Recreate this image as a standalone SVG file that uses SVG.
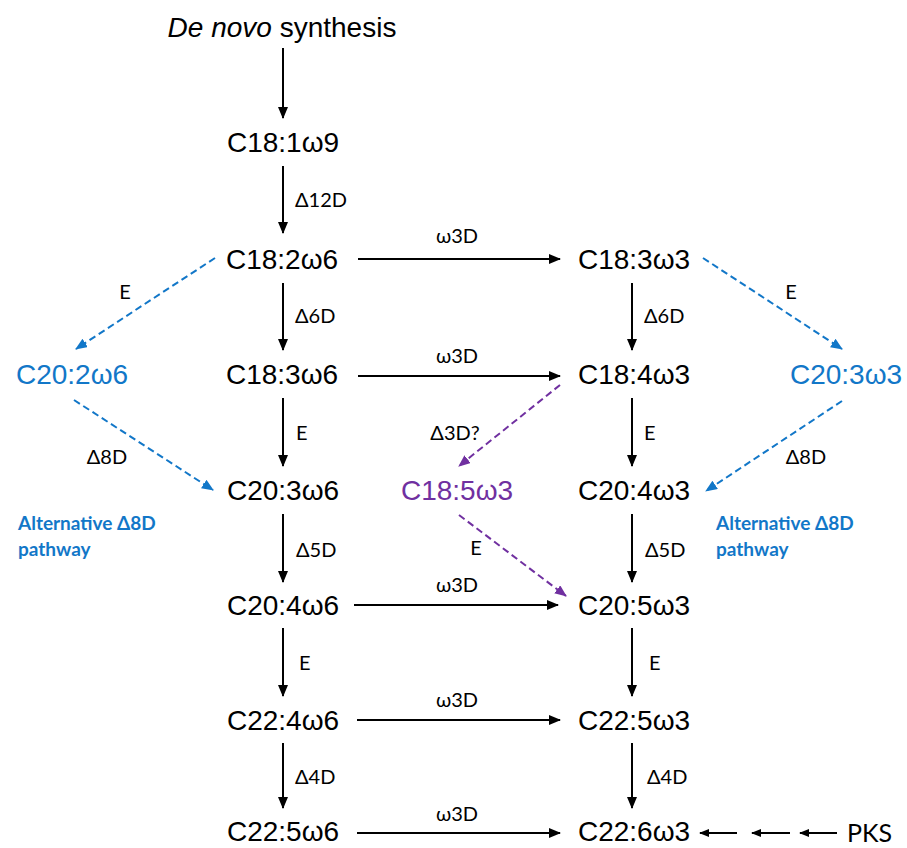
<svg xmlns="http://www.w3.org/2000/svg" width="907" height="848" viewBox="0 0 907 848">
<style>
.n{font-family:"Liberation Sans",Arial,sans-serif;font-size:28px;text-anchor:middle;fill:#000}
.b{fill:#1277c8}
.p{fill:#7030A0}
.l{font-family:Lato,"Noto Sans",sans-serif;font-size:20px;fill:#000}
.lm{text-anchor:middle}
.alt{font-family:Lato,"Noto Sans",sans-serif;font-size:19px;font-weight:bold;fill:#1277c8}
.k{stroke:#000;stroke-width:2;fill:none}
.bd{stroke:#1277c8;stroke-width:2;fill:none;stroke-dasharray:7 4}
.pd{stroke:#7030A0;stroke-width:2;fill:none;stroke-dasharray:7 4}
</style>
<defs>
<marker id="ak" markerUnits="userSpaceOnUse" markerWidth="13" markerHeight="11" refX="11" refY="5" orient="auto"><path d="M0,0 L12,5 L0,10 z" fill="#000"/></marker>
<marker id="aks" markerUnits="userSpaceOnUse" markerWidth="11" markerHeight="9" refX="9" refY="4" orient="auto"><path d="M0,0 L10,4 L0,8 z" fill="#000"/></marker>
<marker id="ab" markerUnits="userSpaceOnUse" markerWidth="13" markerHeight="11" refX="11" refY="5" orient="auto"><path d="M0,0 L12,5 L0,10 z" fill="#1277c8"/></marker>
<marker id="ap" markerUnits="userSpaceOnUse" markerWidth="13" markerHeight="11" refX="11" refY="5" orient="auto"><path d="M0,0 L12,5 L0,10 z" fill="#7030A0"/></marker>
</defs>
<rect width="907" height="848" fill="#fff"/>
<g id="connectors">
<g class="k" marker-end="url(#ak)">
<line x1="283" y1="48" x2="283" y2="118"/>
<line x1="283" y1="166" x2="283" y2="233"/>
<line x1="283" y1="283" x2="283" y2="350"/>
<line x1="283" y1="398" x2="283" y2="466"/>
<line x1="283" y1="514" x2="283" y2="582"/>
<line x1="283" y1="628" x2="283" y2="696"/>
<line x1="283" y1="743" x2="283" y2="808"/>
<line x1="632" y1="283" x2="632" y2="350"/>
<line x1="632" y1="398" x2="632" y2="466"/>
<line x1="632" y1="514" x2="632" y2="582"/>
<line x1="632" y1="628" x2="632" y2="696"/>
<line x1="632" y1="743" x2="632" y2="808"/>
<line x1="358" y1="259" x2="560" y2="259"/>
<line x1="358" y1="376" x2="560" y2="376"/>
<line x1="354" y1="605" x2="558" y2="605"/>
<line x1="357" y1="720" x2="560" y2="720"/>
<line x1="357" y1="833" x2="560" y2="833"/>
</g>
<g class="k" marker-end="url(#aks)">
<line x1="737" y1="833" x2="700" y2="833"/>
<line x1="790" y1="833" x2="752" y2="833"/>
<line x1="837" y1="833" x2="800" y2="833"/>
</g>
<g class="bd" marker-end="url(#ab)">
<line x1="215" y1="258" x2="76" y2="349"/>
<line x1="74" y1="400" x2="213" y2="490"/>
<line x1="703" y1="258" x2="842" y2="349"/>
<line x1="842" y1="401" x2="706" y2="491"/>
</g>
<g class="pd" marker-end="url(#ap)">
<line x1="560" y1="385" x2="459" y2="466"/>
<line x1="459" y1="515" x2="566" y2="596"/>
</g>
<g id="connector-labels">
<text class="l" x="295" y="207">Δ12D</text>
<text class="l" x="295" y="323">Δ6D</text>
<text class="l" x="296" y="440">E</text>
<text class="l" x="296" y="557">Δ5D</text>
<text class="l" x="299" y="670">E</text>
<text class="l" x="295" y="784">Δ4D</text>
<text class="l" x="644" y="323">Δ6D</text>
<text class="l" x="644" y="440">E</text>
<text class="l" x="645" y="557">Δ5D</text>
<text class="l" x="649" y="670">E</text>
<text class="l" x="647" y="784">Δ4D</text>
<text class="l lm" x="457" y="243">ω3D</text>
<text class="l lm" x="457" y="363">ω3D</text>
<text class="l lm" x="457" y="592">ω3D</text>
<text class="l lm" x="457" y="707">ω3D</text>
<text class="l lm" x="457" y="821">ω3D</text>
<text class="l lm b" x="125" y="299">E</text>
<text class="l lm b" x="107" y="464">Δ8D</text>
<text class="l lm b" x="791" y="299">E</text>
<text class="l lm b" x="806" y="464">Δ8D</text>
<text class="l lm p" x="455" y="440">Δ3D?</text>
<text class="l lm p" x="476" y="555">E</text>
</g>
</g>
<g id="n-denovo"><text class="n" x="282" y="37"><tspan font-style="italic">De novo</tspan> synthesis</text></g>
<g id="n-c18-1w9"><text class="n" x="283" y="152">C18:1ω9</text></g>
<g id="n-c18-2w6"><text class="n" x="282" y="269">C18:2ω6</text></g>
<g id="n-c18-3w6"><text class="n" x="282" y="384">C18:3ω6</text></g>
<g id="n-c20-3w6"><text class="n" x="283" y="500">C20:3ω6</text></g>
<g id="n-c20-4w6"><text class="n" x="283" y="615">C20:4ω6</text></g>
<g id="n-c22-4w6"><text class="n" x="283" y="730">C22:4ω6</text></g>
<g id="n-c22-5w6"><text class="n" x="283" y="841">C22:5ω6</text></g>
<g id="n-c18-3w3"><text class="n" x="634" y="269">C18:3ω3</text></g>
<g id="n-c18-4w3"><text class="n" x="634" y="384">C18:4ω3</text></g>
<g id="n-c20-4w3"><text class="n" x="634" y="500">C20:4ω3</text></g>
<g id="n-c20-5w3"><text class="n" x="634" y="615">C20:5ω3</text></g>
<g id="n-c22-5w3"><text class="n" x="634" y="730">C22:5ω3</text></g>
<g id="n-c22-6w3"><text class="n" x="634" y="841">C22:6ω3</text></g>
<g id="n-c20-2w6"><text class="n b" x="72" y="384">C20:2ω6</text></g>
<g id="n-c20-3w3"><text class="n b" x="846" y="384">C20:3ω3</text></g>
<g id="n-c18-5w3"><text class="n p" x="457" y="500">C18:5ω3</text></g>
<g id="n-pks"><text x="847" y="842" font-family="Lato,'Noto Sans',sans-serif" font-size="25" fill="#000">PKS</text></g>
<g id="note-left"><text class="alt" x="18" y="530">Alternative Δ8D</text><text class="alt" x="18" y="556">pathway</text></g>
<g id="note-right"><text class="alt" x="716" y="530">Alternative Δ8D</text><text class="alt" x="716" y="556">pathway</text></g>
</svg>
